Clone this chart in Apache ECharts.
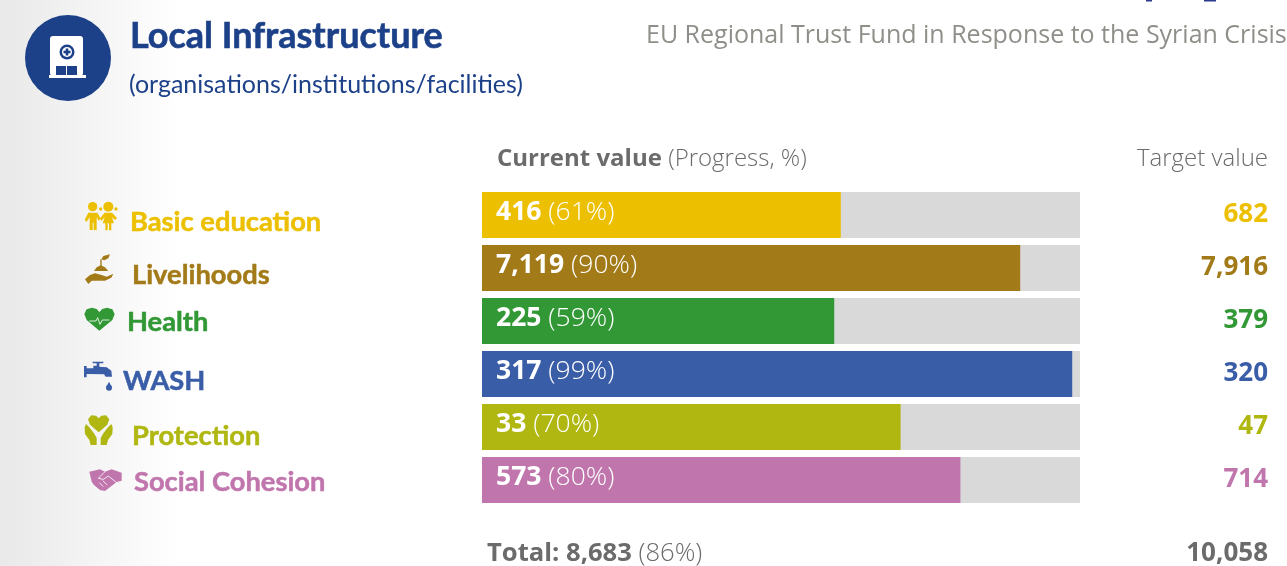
<!DOCTYPE html>
<html>
<head>
<meta charset="utf-8">
<style>
  html, body { margin: 0; padding: 0; background: #fff; }
  #chart { width: 1287px; height: 566px; }
</style>
<script src="https://cdn.jsdelivr.net/npm/echarts@6/dist/echarts.min.js"></script>
</head>
<body>
<div id="chart"></div>
<script>
const categories = ['Basic education', 'Livelihoods', 'Health', 'WASH', 'Protection', 'Social Cohesion']
const currentLabels = ['416', '7,119', '225', '317', '33', '573']
const progressLabels = ['61%', '90%', '59%', '99%', '70%', '80%']
const barLengths = [60, 90, 58.9, 98.7, 70, 80]
const targetLabels = ['682', '7,916', '379', '320', '47', '714']
const colors = ['#ecc000', '#a27a17', '#319835', '#3a5da8', '#afb710', '#c076ad']

const BLUE = '#1c4189'
const GREY = '#6b6b6b'
const HEAD_FONT = 'Lato'
const BODY_FONT = '"Open Sans"'

// where each category label sits, it is not quite regular in the original
const labelX = [130, 132, 127, 123, 132, 134]
const labelY = [222, 275, 322, 381, 436, 482]

function text(x, y, str, fill, size, weight, font, align, thicken) {
  return {
    type: 'text',
    x, y,
    style: {
      text: str,
      fill,
      fontSize: size,
      fontWeight: weight || 'normal',
      fontFamily: font || BODY_FONT,
      align: align || 'left',
      verticalAlign: 'middle',
      stroke: thicken ? fill : 'none',
      lineWidth: thicken || 0
    }
  }
}

// icons are traced at 3x, so they go in a group scaled down by 3
function iconGroup(ox, oy, children) {
  return { type: 'group', x: ox, y: oy, scaleX: 1 / 3, scaleY: 1 / 3, children }
}

function circle(cx, cy, r, fill) {
  return { type: 'circle', shape: { cx, cy, r }, style: { fill } }
}

function rect(x, y, width, height, fill, r) {
  return { type: 'rect', shape: { x, y, width, height, r: r || 0 }, style: { fill } }
}

function poly(points, fill) {
  return { type: 'polygon', shape: { points }, style: { fill } }
}

function stroke(points, color, lineWidth) {
  return { type: 'polyline', shape: { points }, style: { stroke: color, lineWidth, fill: 'none' } }
}

const icons = [
  iconGroup(70, 190, [
    circle(68, 50, 14, colors[0]),
    poly([[55, 68], [82, 68], [92, 86], [86, 92], [80, 82], [80, 120], [71, 120], [71, 98], [68, 98], [68, 120], [59, 120], [59, 82], [50, 95], [44, 90]], colors[0]),
    circle(115, 50, 15, colors[0]),
    circle(92, 57, 5, colors[0]),
    circle(138, 57, 5, colors[0]),
    poly([[104, 68], [126, 68], [141, 84], [135, 90], [126, 82], [132, 100], [124, 100], [124, 121], [117, 121], [117, 100], [113, 100], [113, 121], [106, 121], [106, 100], [98, 100], [104, 82], [95, 92], [89, 86]], colors[0])
  ]),
  iconGroup(70, 190, [
    poly([[45, 268], [60, 255], [75, 250], [95, 255], [110, 260], [130, 251], [124, 263], [105, 272], [65, 272], [55, 282]], colors[1]),
    poly([[72, 243], [80, 232], [92, 226], [105, 232], [115, 243]], colors[1]),
    rect(91, 208, 4, 20, colors[1]),
    poly([[94, 208], [100, 198], [120, 193], [115, 205], [103, 211]], colors[1])
  ]),
  iconGroup(70, 190, [
    poly([[88, 422], [50, 390], [43, 372], [50, 358], [66, 353], [80, 357], [88, 366], [97, 357], [111, 353], [127, 358], [134, 372], [127, 390]], colors[2]),
    stroke([[58, 393], [78, 393], [83, 383], [90, 403], [97, 390], [118, 390]], '#fff', 2.5)
  ]),
  iconGroup(70, 350, [
    poly([[42, 48], [50, 48], [50, 55], [70, 55], [70, 47], [80, 47], [80, 40], [68, 40], [68, 35], [100, 35], [100, 40], [88, 40], [88, 50], [110, 52], [124, 62], [126, 80], [107, 80], [102, 73], [50, 72], [50, 82], [42, 82]], colors[3]),
    circle(117, 113, 9, colors[3]),
    poly([[117, 95], [125, 110], [109, 110]], colors[3])
  ]),
  iconGroup(70, 350, [
    poly([[86, 247], [60, 224], [54, 208], [64, 196], [78, 197], [86, 205], [94, 197], [108, 196], [118, 208], [112, 224]], colors[4]),
    poly([[48, 222], [58, 232], [72, 250], [80, 264], [80, 285], [62, 285], [58, 270], [45, 252], [44, 232]], colors[4]),
    poly([[124, 222], [114, 232], [100, 250], [92, 264], [92, 285], [110, 285], [114, 270], [127, 252], [128, 232]], colors[4])
  ]),
  iconGroup(70, 350, [
    poly([[58, 365], [90, 358], [105, 365], [125, 358], [155, 368], [155, 392], [140, 396], [105, 423], [90, 420], [72, 405], [65, 395]], colors[5]),
    stroke([[105, 365], [85, 385], [100, 388], [115, 378], [140, 398]], '#fff', 2.5),
    stroke([[88, 398], [100, 410]], '#fff', 2.5),
    stroke([[98, 392], [112, 405]], '#fff', 2.5)
  ])
]

const headerIcon = [
  circle(68, 58, 43, BLUE),
  rect(50, 36, 33, 40, '#fff', 3),
  rect(49, 75, 37, 3, '#fff'),
  circle(67, 52, 7.5, BLUE),
  circle(67, 52, 5, '#fff'),
  rect(65.7, 48.5, 2.6, 7, BLUE),
  rect(63.5, 50.7, 7, 2.6, BLUE),
  rect(56, 66, 10, 9, BLUE),
  rect(67, 66, 10, 9, BLUE)
]

const chart = echarts.init(document.getElementById('chart'))

chart.setOption({
  animation: false,
  backgroundColor: '#fff',
  grid: { left: 482, top: 188.5, width: 598, height: 318 },
  xAxis: { type: 'value', min: 0, max: 100, show: false },
  yAxis: [
    {
      type: 'category',
      data: categories,
      inverse: true,
      axisLine: { show: false },
      axisTick: { show: false },
      axisLabel: { show: false }
    },
    {
      type: 'category',
      position: 'right',
      data: targetLabels,
      inverse: true,
      axisLine: { show: false },
      axisTick: { show: false },
      axisLabel: {
        align: 'right',
        margin: 188,
        padding: [0, 0, 8, 0],
        fontFamily: BODY_FONT,
        fontSize: 26,
        fontWeight: 700,
        color: (value, idx) => colors[idx]
      }
    }
  ],
  series: [
    {
      type: 'bar',
      barWidth: 46,
      barGap: '-100%',
      silent: true,
      itemStyle: { color: '#d9d9d9' },
      data: categories.map(() => 100)
    },
    {
      type: 'bar',
      barWidth: 46,
      data: barLengths.map((v, i) => ({ value: v, itemStyle: { color: colors[i] } })),
      label: {
        show: true,
        position: 'insideLeft',
        distance: 14,
        padding: [0, 0, 5, 0],
        formatter: (p) => `{a|${currentLabels[p.dataIndex]} }{b|(${progressLabels[p.dataIndex]})}`,
        rich: {
          a: { fontFamily: BODY_FONT, fontSize: 26.5, fontWeight: 700, color: '#fff' },
          b: { fontFamily: BODY_FONT, fontSize: 26.5, fontWeight: 300, color: '#fff' }
        }
      }
    }
  ],
  graphic: [
    // grey fade along the left edge of the page
    {
      type: 'rect',
      z: -10,
      shape: { x: 0, y: 0, width: 180, height: 566 },
      style: {
        fill: new echarts.graphic.LinearGradient(0, 0, 1, 0, [
          { offset: 0, color: '#e9e9e9' },
          { offset: 1, color: '#ffffff' }
        ])
      }
    },
    // bottom of a heading that is cut off by the top of the picture
    rect(1146, 0, 6, 1.5, '#2b3a8f'),
    rect(1204, 0, 12, 1.5, '#2b3a8f'),
    { type: 'group', children: headerIcon },
    text(130, 36, 'Local Infrastructure', BLUE, 36, 700, HEAD_FONT, 'left', 0.6),
    text(129, 85, '(organisations/institutions/facilities)', BLUE, 25, 400, HEAD_FONT),
    text(646, 36, 'EU Regional Trust Fund in Response to the Syrian Crisis', '#8f8f8a', 25, 400, BODY_FONT),
    {
      type: 'text',
      x: 497, y: 159,
      style: {
        text: '{a|Current value }{b|(Progress, %)}',
        verticalAlign: 'middle',
        rich: {
          a: { fontFamily: BODY_FONT, fontSize: 24, fontWeight: 700, fill: GREY },
          b: { fontFamily: BODY_FONT, fontSize: 24, fontWeight: 300, fill: GREY }
        }
      }
    },
    text(1268, 159, 'Target value', GREY, 24, 300, BODY_FONT, 'right'),
    {
      type: 'text',
      x: 487, y: 554,
      style: {
        text: '{a|Total: 8,683 }{b|(86%)}',
        verticalAlign: 'middle',
        rich: {
          a: { fontFamily: BODY_FONT, fontSize: 25.6, fontWeight: 700, fill: GREY },
          b: { fontFamily: BODY_FONT, fontSize: 25.6, fontWeight: 300, fill: GREY }
        }
      }
    },
    text(1268, 554, '10,058', GREY, 26, 700, BODY_FONT, 'right'),
    ...categories.map((c, i) => text(labelX[i], labelY[i], c, colors[i], 27.3, 700, HEAD_FONT, 'left', 0.5)),
    ...icons
  ]
})
</script>
</body>
</html>
